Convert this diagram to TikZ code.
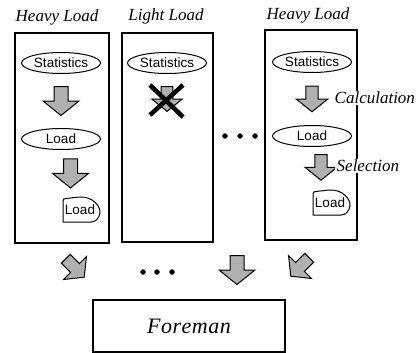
\documentclass[tikz,border=0pt]{standalone}
\usepackage{fontspec}
\setmainfont{Liberation Serif}
\setsansfont{Liberation Sans}
\usetikzlibrary{shapes.geometric,calc}
\tikzset{
  barrow/.pic={\draw[line width=1pt, fill=gray!62] (-7,-14.5) -- (7,-14.5) -- (7,0) -- (18,0) -- (0,14.5) -- (-18,0) -- (-7,0) -- cycle;},
}
\begin{document}
\begin{tikzpicture}[x=1pt,y=-1pt,
  frame/.style={draw,line width=1.3pt},
  oval/.style={draw,ellipse,line width=1pt,minimum width=79pt,minimum height=21pt,inner sep=0pt,font=\sffamily\fontsize{13.5}{13.5}\selectfont},
  txt/.style={inner sep=0pt,font=\sffamily\fontsize{13.5}{13.5}\selectfont},
  title/.style={font=\itshape\fontsize{17}{17}\selectfont},
  lbl/.style={font=\itshape\fontsize{17}{17}\selectfont, fill=white, inner sep=1.5pt, anchor=west},
  dot/.style={circle,fill,inner sep=0pt,minimum size=5.5pt},
  cross/.style={line width=4.5pt},
  dshape/.style={draw,line width=1pt}
]
\useasboundingbox (0,0) rectangle (420,353);

% titles
\node[title] (t1) at (57,17) {Heavy Load};
\node[title] (t2) at (166,16) {Light Load};
\node[title] (t3) at (308,15) {Heavy Load};

% frames
\node[frame,minimum width=94pt,minimum height=210pt,inner sep=0pt] (b1) at (62,138) {};
\node[frame,minimum width=91pt,minimum height=209pt,inner sep=0pt] (b2) at (167.5,137.5) {};
\node[frame,minimum width=92pt,minimum height=210pt,inner sep=0pt] (b3) at (311,135) {};

% box 1
\node[oval] (s1) at (61,63) {Statistics};
\node[oval] (l1) at (61,139) {Load};
\node[txt] (d1) at (80,210) {Load};
\draw[dshape,shift={(63,197)}] (0,25) -- (0,4) .. controls (0,2) and (1,1.5) .. (3,1.5) -- (16,0) .. controls (30,-1) and (38,10) .. (37,16) .. controls (36,22) and (32,25) .. (28,25) -- cycle;
\pic at ($(s1.south)!0.5!(l1.north)$) {barrow};
\pic at ($(l1.south)!0.5!(d1.north)+(0,-4)$) {barrow};

% box 2
\node[oval] (s2) at (167,63) {Statistics};
\pic[scale=0.85] (x2) at (167,99) {barrow};
\coordinate (c1) at (150,85);
\coordinate (c2) at (183,117);
\coordinate (c3) at (183,85);
\coordinate (c4) at (150,115);
\draw[cross] (c1) -- (c2);
\draw[cross] (c3) -- (c4);

% dots between boxes
\node[dot] (p1) at (225,136) {};
\node[dot] (p2) at (240,136) {};
\node[dot] (p3) at (255,136) {};

% box 3
\node[oval] (s3) at (312,62) {Statistics};
\node[oval] (l3) at (312,136) {Load};
\node[txt] (d3) at (330,203) {Load};
\draw[dshape,shift={(313,190)}] (0,25) -- (0,4) .. controls (0,2) and (1,1.5) .. (3,1.5) -- (16,0) .. controls (30,-1) and (38,10) .. (37,16) .. controls (36,22) and (32,25) .. (28,25) -- cycle;
\pic[scale=0.88] at ($(s3.south)!0.5!(l3.north)$) {barrow};
\pic[scale=0.88] at ($(l3.south)!0.5!(d3.north)+(0,-5)$) {barrow};
\node[lbl] (calc) at (333,98) {Calculation};
\node[lbl] (sel) at (335,166) {Selection};

% foreman and bottom arrows
\node[frame,minimum width=192pt,minimum height=52pt,inner sep=0pt,font=\itshape\fontsize{22}{22}\selectfont] (f) at (189,326) {F\kern0.5pt o\kern0.5pt r\kern0.5pt e\kern0.5pt m\kern0.5pt a\kern0.5pt n};
\pic[rotate=45,scale=0.9] at (75,268) {barrow};
\pic at (237,270) {barrow};
\pic[rotate=-45,scale=0.9] at (300,267) {barrow};
\node[dot] (q1) at (143,272) {};
\node[dot] (q2) at (157,272) {};
\node[dot] (q3) at (172,272) {};
\end{tikzpicture}
\end{document}
